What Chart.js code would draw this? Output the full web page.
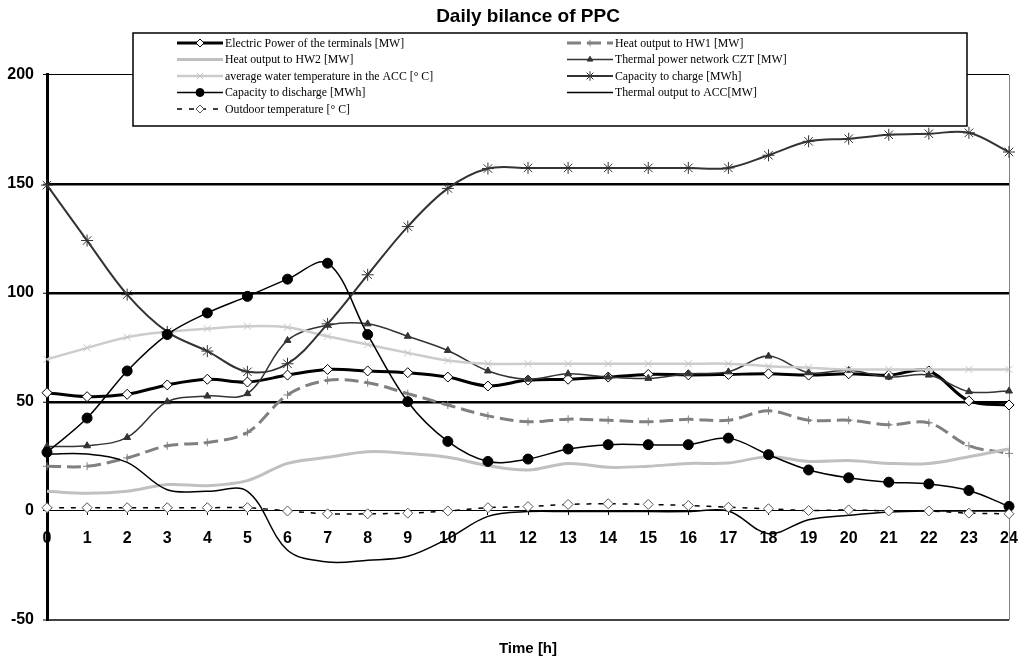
<!DOCTYPE html>
<html>
<head>
<meta charset="utf-8">
<title>Daily bilance of PPC</title>
<script src="https://cdn.jsdelivr.net/npm/chart.js@4.4.1/dist/chart.umd.min.js"></script>
<style>
  html, body { margin: 0; padding: 0; background: #fff; }
</style>
</head>
<body>
<canvas id="ppc" width="1018" height="656"></canvas>
<script>
// hours of the day
const hours = ['0','1','2','3','4','5','6','7','8','9','10','11','12','13','14','15','16','17','18','19','20','21','22','23','24']

const electricPower = [54.2, 52.4, 53.5, 57.8, 60.4, 59.1, 62.3, 64.9, 64.2, 63.4, 61.4, 57.3, 60.0, 60.4, 61.4, 62.6, 62.4, 62.6, 62.9, 62.3, 62.9, 62.3, 64.2, 50.5, 48.6]
const heatHW1 = [20.5, 20.5, 24.3, 29.9, 31.4, 36.0, 53.2, 59.9, 58.8, 53.8, 48.6, 43.6, 40.9, 42.1, 41.6, 40.9, 42.0, 41.6, 45.9, 41.6, 41.6, 39.5, 40.4, 29.9, 26.4]
const heatHW2 = [9.0, 8.1, 9.0, 12.1, 11.6, 13.9, 21.8, 24.6, 27.2, 26.4, 24.6, 20.8, 18.8, 21.8, 20.0, 20.5, 21.8, 22.0, 24.9, 22.7, 23.1, 21.8, 21.8, 24.9, 28.4]
const thermalCZT = [29.6, 29.9, 33.7, 50.1, 52.7, 53.8, 78.2, 85.2, 85.8, 80.1, 73.6, 64.2, 60.4, 62.9, 61.4, 60.8, 62.9, 63.8, 71.0, 63.4, 64.5, 61.4, 62.3, 54.7, 55.0]
const avgWaterTemp = [69.5, 74.8, 79.7, 82.1, 83.6, 84.7, 84.2, 80.1, 76.3, 72.5, 69.0, 67.5, 67.5, 67.5, 67.5, 67.5, 67.5, 67.5, 66.4, 65.7, 64.9, 64.9, 64.9, 64.9, 64.9]
const capacityCharge = [149.4, 124.0, 99.2, 82.1, 73.3, 63.8, 67.5, 85.8, 108.3, 130.4, 147.9, 157.0, 157.3, 157.3, 157.3, 157.3, 157.3, 157.3, 163.1, 169.5, 170.7, 172.5, 173.0, 173.4, 164.6]
const capacityDischarge = [26.9, 42.6, 64.2, 80.9, 90.8, 98.4, 106.3, 113.6, 80.9, 50.1, 31.9, 22.7, 23.8, 28.4, 30.4, 30.4, 30.4, 33.4, 25.8, 18.8, 15.2, 13.2, 12.4, 9.4, 2.1]
const thermalACC = [26.1, 26.1, 22.3, 9.7, 9.0, 9.0, -18.0, -23.4, -22.6, -20.8, -12.7, -2.5, -0.3, -0.3, -0.3, -0.3, -0.3, 0.0, -10.4, -4.0, -2.0, -0.5, 0.0, 0.0, 0.0]
const outdoorTemp = [1.5, 1.5, 1.5, 1.5, 1.5, 1.5, 0.0, -1.3, -1.3, -1.0, 0.0, 1.5, 2.0, 3.0, 3.3, 3.0, 2.5, 1.7, 1.0, 0.2, 0.5, 0.0, 0.0, -1.0, -1.3]

const yTicks = [-50, 0, 50, 100, 150, 200]

const sans = "'Liberation Sans', Arial, sans-serif"
const serif = "'Liberation Serif', 'Times New Roman', serif"

const datasets = [
  { label: 'Electric Power of the terminals [MW]', data: electricPower,
    borderColor: '#000', borderWidth: 3, pointStyle: 'rectRot', pointRadius: 5,
    pointBackgroundColor: '#fff', pointBorderColor: '#000', pointBorderWidth: 1 },
  { label: 'Heat output to HW1 [MW]', data: heatHW1,
    borderColor: '#808080', borderWidth: 3, borderDash: [14, 6], pointStyle: 'cross', pointRadius: 4,
    pointBackgroundColor: '#808080', pointBorderColor: '#808080', pointBorderWidth: 1 },
  { label: 'Heat output to HW2 [MW]', data: heatHW2,
    borderColor: '#c0c0c0', borderWidth: 3, pointRadius: 0 },
  { label: 'Thermal power network CZT [MW]', data: thermalCZT,
    borderColor: '#333', borderWidth: 1.5, pointStyle: 'triangle', pointRadius: 4,
    pointBackgroundColor: '#333', pointBorderColor: '#333', pointBorderWidth: 1 },
  { label: 'average water temperature in the ACC [° C]', data: avgWaterTemp,
    borderColor: '#cccccc', borderWidth: 2.5, pointStyle: 'crossRot', pointRadius: 5,
    pointBackgroundColor: '#c4c4c4', pointBorderColor: '#c4c4c4', pointBorderWidth: 1 },
  { label: 'Capacity to charge [MWh]', data: capacityCharge,
    borderColor: '#333', borderWidth: 2, pointStyle: 'star', pointRadius: 6,
    pointBackgroundColor: '#333', pointBorderColor: '#333', pointBorderWidth: 1 },
  { label: 'Capacity to discharge [MWh]', data: capacityDischarge,
    borderColor: '#000', borderWidth: 1.5, pointStyle: 'circle', pointRadius: 5,
    pointBackgroundColor: '#000', pointBorderColor: '#000', pointBorderWidth: 1 },
  { label: 'Thermal output to ACC[MW]', data: thermalACC,
    borderColor: '#000', borderWidth: 1.5, pointRadius: 0 },
  { label: 'Outdoor temperature [° C]', data: outdoorTemp,
    borderColor: '#000', borderWidth: 1.5, borderDash: [5, 7], pointStyle: 'rectRot', pointRadius: 5,
    pointBackgroundColor: '#fff', pointBorderColor: '#555', pointBorderWidth: 1 }
]
datasets.forEach((ds, i) => {
  ds.tension = 0.35
  ds.fill = false
  ds.order = -i   // later series on top, like the original
})

// two column legend in a box, drawn over the plot
const legendRows = [[0, 1], [2, 3], [4, 5], [6, 7], [8]]
const boxLegend = {
  id: 'boxLegend',
  afterDraw(chart) {
    const ctx = chart.ctx
    const box = { x: 133, y: 33, w: 834, h: 93 }
    const cols = [177, 567]
    ctx.save()
    ctx.fillStyle = '#fff'
    ctx.fillRect(box.x, box.y, box.w, box.h)
    ctx.lineWidth = 1.5
    ctx.strokeStyle = '#000'
    ctx.strokeRect(box.x, box.y, box.w, box.h)
    legendRows.forEach((row, r) => {
      const y = 43 + r * 16.5
      row.forEach((idx, c) => {
        const ds = chart.data.datasets[idx]
        const x0 = cols[c]
        ctx.save()
        ctx.beginPath()
        ctx.setLineDash(ds.borderDash || [])
        ctx.lineWidth = ds.borderWidth
        ctx.strokeStyle = ds.borderColor
        ctx.moveTo(x0, y)
        ctx.lineTo(x0 + 46, y)
        ctx.stroke()
        ctx.setLineDash([])
        if (ds.pointRadius > 0) {
          ctx.fillStyle = ds.pointBackgroundColor
          ctx.strokeStyle = ds.pointBorderColor
          ctx.lineWidth = ds.pointBorderWidth
          Chart.helpers.drawPoint(ctx, { pointStyle: ds.pointStyle, radius: ds.pointRadius * 0.8, borderWidth: ds.pointBorderWidth, rotation: 0 }, x0 + 23, y)
        }
        ctx.restore()
        ctx.fillStyle = '#000'
        ctx.font = '11.8px ' + serif
        ctx.textBaseline = 'middle'
        ctx.textAlign = 'left'
        ctx.fillText(ds.label, x0 + 48, y + 0.5)
      })
    })
    ctx.restore()
  }
}

// grey right border of the plot area
const plotFrame = {
  id: 'plotFrame',
  beforeDatasetsDraw(chart) {
    const a = chart.chartArea
    const ctx = chart.ctx
    ctx.save()
    ctx.strokeStyle = '#808080'
    ctx.lineWidth = 1
    ctx.beginPath()
    ctx.moveTo(a.right + 0.5, a.top)
    ctx.lineTo(a.right + 0.5, a.bottom)
    ctx.stroke()
    ctx.restore()
  }
}

new Chart('ppc', {
  type: 'line',
  data: { labels: hours, datasets: datasets },
  options: {
    responsive: false,
    animation: false,
    layout: { padding: { left: 0, right: 9, top: 0, bottom: 0 } },
    plugins: {
      legend: { display: false },
      tooltip: { enabled: false },
      title: {
        display: true, text: 'Daily bilance of PPC', fullSize: false,
        color: '#000', font: { family: sans, size: 19, weight: 'bold' },
        padding: { top: 5, bottom: 47 }
      },
      subtitle: {
        display: true, text: 'Time [h]', position: 'bottom', fullSize: false,
        color: '#000', font: { family: sans, size: 15, weight: 'bold', lineHeight: 1 },
        padding: { top: 21, bottom: 0 }
      }
    },
    scales: {
      x: {
        type: 'category',
        offset: false,
        position: { y: 0 },
        afterFit: axis => { axis.paddingLeft = 0; axis.paddingRight = 0 },
        border: { display: true, color: '#000', width: 1 },
        grid: { drawOnChartArea: false, drawTicks: true, tickLength: 4, tickColor: '#000', tickWidth: 1 },
        ticks: {
          autoSkip: false, maxRotation: 0, padding: 14, color: '#000',
          font: { family: sans, size: 16, weight: 'bold' }
        }
      },
      y: {
        min: yTicks[0], max: yTicks[yTicks.length - 1],
        afterBuildTicks: axis => { axis.ticks = yTicks.map(v => ({ value: v })) },
        afterFit: axis => { axis.width = 47 },
        border: { display: true, color: '#000', width: 3 },
        grid: {
          tickLength: 4, tickColor: '#000', tickWidth: 1,
          color: c => {
            const v = c.tick && c.tick.value
            if (v === -50) return '#444'
            return '#000'
          },
          lineWidth: c => {
            const v = c.tick && c.tick.value
            if (v === 50 || v === 100 || v === 150) return 2.5
            if (v === -50) return 2
            return 1
          }
        },
        ticks: {
          padding: 9, color: '#000',
          font: { family: sans, size: 16, weight: 'bold' }
        }
      }
    }
  },
  plugins: [plotFrame, boxLegend]
})
</script>
</body>
</html>
